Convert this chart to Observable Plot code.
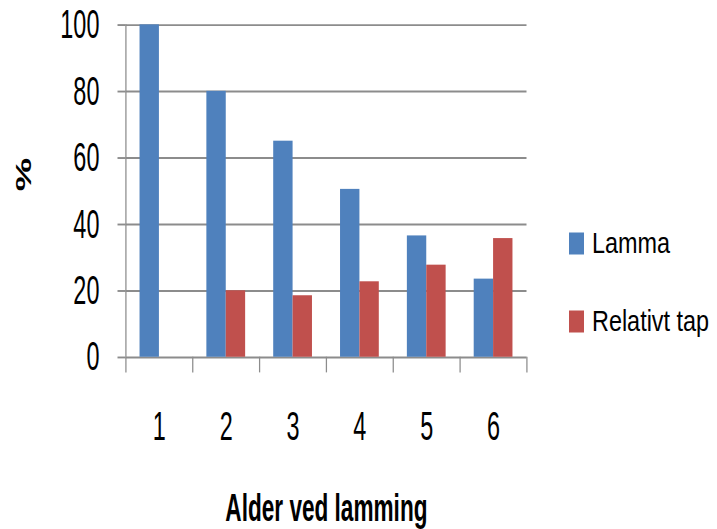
<!DOCTYPE html>
<html><head><meta charset="utf-8">
<script src="https://cdn.jsdelivr.net/npm/d3@7"></script>
<script src="https://cdn.jsdelivr.net/npm/@observablehq/plot@0.6"></script>
<style>
body{margin:0;background:#fff;}
#wrap{position:relative;width:717px;height:529px;overflow:hidden;font-family:"Liberation Sans",Arial,sans-serif;}
#chart svg{display:block;}
.item{position:absolute;left:569px;display:flex;align-items:center;white-space:nowrap;transform:translateY(-50%);}
.sw{width:15px;height:22px;margin-right:8px;flex:none;}
.lbl{font-size:27px;color:#000;display:inline-block;transform:scale(0.867,1.12);transform-origin:left center;line-height:1;}
</style></head><body>
<div id="wrap"><div id="chart"></div><div id="legend"></div></div>
<script>
const ages = [1, 2, 3, 4, 5, 6];
const lamma = [100, 80, 65, 50.5, 36.5, 23.5];
const relativtTap = [null, 20, 18.5, 22.7, 27.7, 35.7];
const seriesNames = ["Lamma", "Relativt tap"];
const seriesColors = ["#4F81BD", "#C0504D"];
const yTicks = [0, 20, 40, 60, 80, 100];
const xTitle = "Alder ved lamming";
const yTitle = "%";

// the reference is drawn condensed horizontally and stretched vertically
const W = 717, H = 529, SX = 0.837, SY = 1.449;
const vw = W / SX, vh = H / SY;
const barW = 0.29;
const grid = "#8c8c8c";
const rows = ages.map((a, i) => ({age: a, lamma: lamma[i], tap: relativtTap[i]}));
const boundaries = [ages[0] - 0.5, ...ages.map(a => a + 0.5)];

const chart = Plot.plot({
  width: vw, height: vh,
  marginTop: 16.8, marginBottom: vh - 246.2, marginLeft: 125.5 / SX, marginRight: 190.5 / SX,
  style: {fontFamily: "'Liberation Sans', Arial, sans-serif", color: "#000", background: "#fff"},
  x: {domain: [boundaries[0], boundaries[boundaries.length - 1]]},
  y: {domain: [yTicks[0], yTicks[yTicks.length - 1]]},
  marks: [
    Plot.ruleY(yTicks, {stroke: grid, strokeWidth: 1.3}),
    Plot.ruleX([boundaries[0]], {stroke: grid, strokeWidth: 1.5}),
    Plot.axisY({ticks: yTicks, tickSize: 8 / SX, tickPadding: 18.5 / SX, fontSize: 28, stroke: grid, strokeWidth: 1.3, label: null}),
    Plot.axisX({ticks: boundaries, tickSize: 10.8, tickFormat: () => "", stroke: grid, strokeWidth: 1.5, label: null}),
    Plot.axisX({ticks: ages, tickSize: 0, tickPadding: 37, fontSize: 28, tickFormat: d => String(d), label: null}),
    Plot.rectY(rows, {x1: d => d.age - barW, x2: d => d.age, y: "lamma", fill: seriesColors[0]}),
    Plot.rectY(rows.filter(d => d.tap != null), {x1: d => d.age, x2: d => d.age + barW, y: "tap", fill: seriesColors[1]}),
    Plot.text([xTitle], {frameAnchor: "bottom", dy: 104, fontSize: 27, fontWeight: "bold", lineAnchor: "middle"}),
    Plot.text([yTitle], {frameAnchor: "left", dx: -101.5 / SX, rotate: -90, fontSize: 26, fontWeight: "bold", lineAnchor: "middle"})
  ]
});
chart.setAttribute("preserveAspectRatio", "none");
chart.setAttribute("width", W);
chart.setAttribute("height", H);
chart.style.width = W + "px";
chart.style.height = H + "px";
chart.style.maxWidth = "none";
document.getElementById("chart").appendChild(chart);

const legendCenters = [243, 321];
const legend = document.getElementById("legend");
seriesNames.forEach((name, i) => {
  const item = document.createElement("div");
  item.className = "item";
  item.style.top = legendCenters[i] + "px";
  const sw = document.createElement("span");
  sw.className = "sw";
  sw.style.background = seriesColors[i];
  const lbl = document.createElement("span");
  lbl.className = "lbl";
  lbl.textContent = name;
  item.appendChild(sw);
  item.appendChild(lbl);
  legend.appendChild(item);
});
</script>
</body></html>
